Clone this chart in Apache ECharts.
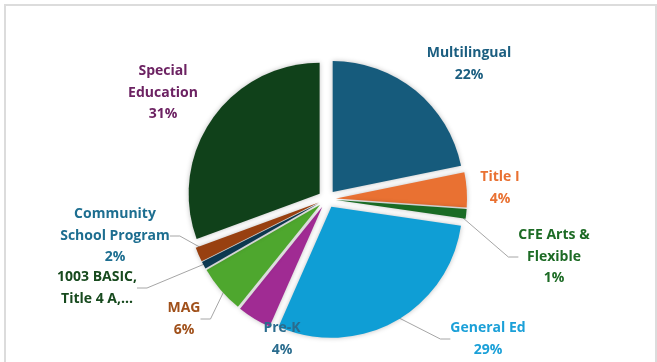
<!DOCTYPE html>
<html>
<head>
<meta charset="utf-8">
<script src="https://cdn.jsdelivr.net/npm/echarts@6/dist/echarts.min.js"></script>
<style>
  html, body { margin: 0; padding: 0; background: #fff; }
  #chart { width: 657px; height: 362px; }
</style>
</head>
<body>
<div id="chart"></div>
<script>
// Funding share by program, clockwise from 12 o'clock
const categories = [
  'Multilingual',
  'Title I',
  'CFE Arts &\nFlexible',
  'General Ed',
  'Pre-K',
  'MAG',
  '1003 BASIC,\nTitle 4 A,...',
  'Community\nSchool Program',
  'Special\nEducation'
];
const shares = [21.8, 4.3, 1.2, 29.3, 4.2, 5.9, 0.9, 1.8, 30.6];
// the truncated category shows its name only
const showPercent = [true, true, true, true, true, true, false, true, true];

// slice fills and label colours
const sliceColors = ['#165B7C', '#E97132', '#196B24', '#0F9ED5', '#A02B93', '#4EA72E', '#0E3A52', '#984010', '#10411A'];
const labelColors = ['#1B5E80', '#E97132', '#1D6B25', '#1BA0D8', '#2A6C8E', '#A0501A', '#174A1E', '#1D6E90', '#6C2262'];
const hasLeader = [false, false, true, true, false, true, true, true, false];
// label block centres in pixels
const labelSpots = [[469, 64], [500, 188], [554, 257], [488, 339], [282, 339], [184, 319], [97, 288], [115, 236], [163, 93]];

const PIE_CENTER = [327, 199];
const PIE_RADIUS = 131;

const chart = echarts.init(document.getElementById('chart'), null, { renderer: 'canvas' });

// exploded slices (every slice pulled out from the centre)
const sliceData = categories.map((name, i) => ({
  name: name,
  value: shares[i],
  selected: true,
  itemStyle: { color: sliceColors[i] }
}));

// an invisible twin pie carries the data labels and leader lines
const labelData = categories.map((name, i) => ({
  name: name,
  value: shares[i],
  label: { color: labelColors[i] },
  labelLine: { show: hasLeader[i] }
}));

chart.setOption({
  animation: false,
  backgroundColor: '#ffffff',
  graphic: [{
    type: 'rect',
    shape: { x: 5, y: 5, width: 651, height: 400 },
    style: { fill: 'none', stroke: '#DCDCDC', lineWidth: 2 },
    silent: true
  }],
  series: [{
    type: 'pie',
    center: PIE_CENTER,
    radius: PIE_RADIUS,
    startAngle: 90,
    clockwise: true,
    selectedMode: 'multiple',
    selectedOffset: 9,
    itemStyle: {
      borderWidth: 0,
      shadowBlur: 5,
      shadowColor: 'rgba(0,0,0,0.25)'
    },
    label: { show: false },
    labelLine: { show: false },
    emphasis: { disabled: true },
    select: { itemStyle: { borderWidth: 0 } },
    silent: true,
    data: sliceData
  }, {
    type: 'pie',
    center: PIE_CENTER,
    radius: PIE_RADIUS,
    startAngle: 90,
    clockwise: true,
    percentPrecision: 0,
    avoidLabelOverlap: false,
    silent: true,
    itemStyle: { color: 'rgba(0,0,0,0)', borderWidth: 0 },
    label: {
      show: true,
      position: 'outside',
      fontFamily: 'Open Sans',
      fontWeight: 'bold',
      fontSize: 14,
      lineHeight: 21.5,
      align: 'center',
      formatter: p => showPercent[p.dataIndex] ? p.name + '\n' + p.percent + '%' : p.name
    },
    labelLine: {
      show: true,
      length: 8,
      length2: 10,
      smooth: false,
      lineStyle: { color: '#A6A6A6', width: 1 }
    },
    labelLayout: p => ({
      x: labelSpots[p.dataIndex][0],
      y: labelSpots[p.dataIndex][1],
      align: 'center',
      verticalAlign: 'middle',
      hideOverlap: false
    }),
    emphasis: { disabled: true },
    data: labelData
  }]
});
</script>
</body>
</html>
